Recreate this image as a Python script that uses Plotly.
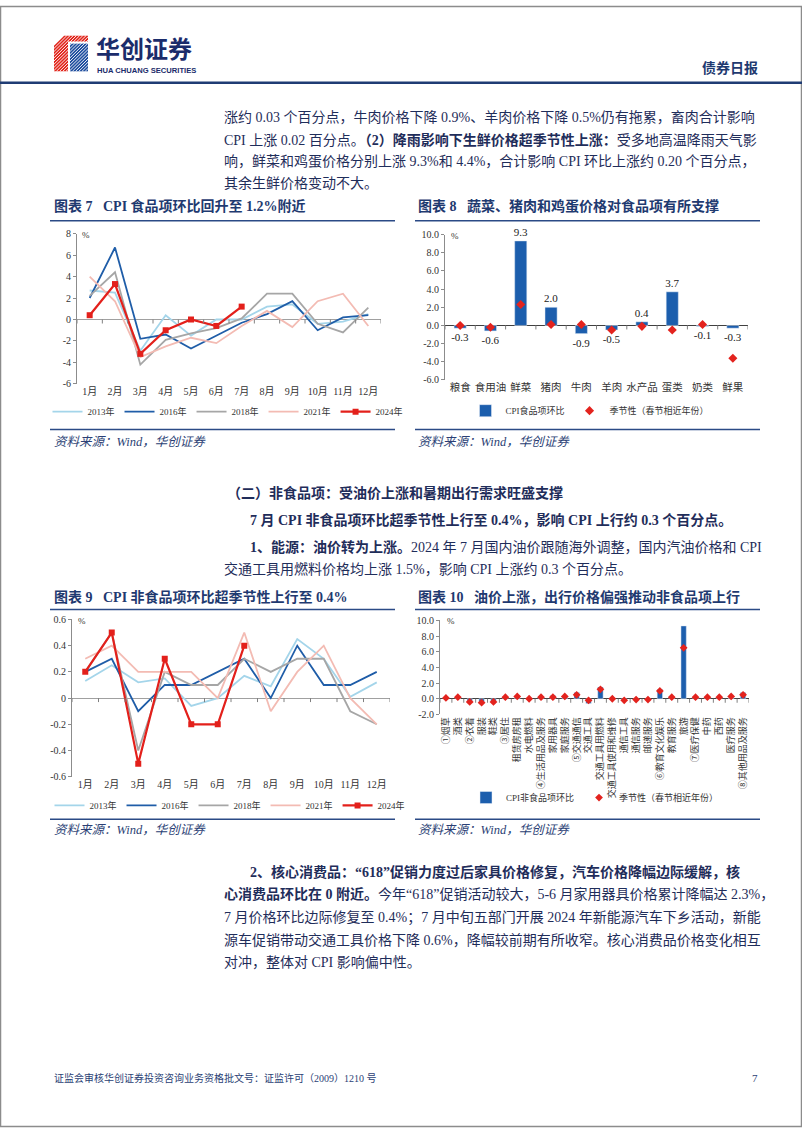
import plotly.graph_objects as go

W, H = 802, 1133

# ---------------- data ----------------
months = ["1月", "2月", "3月", "4月", "5月", "6月", "7月", "8月", "9月", "10月", "11月", "12月"]
year_names = ["2013年", "2016年", "2018年", "2021年", "2024年"]

# Chart 7: CPI food m/m (%)
food_2013 = [2.7, 2.5, -2.9, 0.4, -1.5, 0.0, 0.0, 1.2, 1.4, -0.4, -0.2, 0.5]
food_2016 = [2.0, 6.7, -1.8, -1.4, -2.7, -1.5, -0.3, 0.5, 1.7, -1.0, 0.2, 0.4]
food_2018 = [2.2, 4.4, -4.2, -1.9, -1.3, -0.8, 0.1, 2.4, 2.4, -0.4, -1.2, 1.1]
food_2021 = [4.0, 1.7, -3.5, -2.5, -1.7, -2.2, -0.6, 0.8, -0.7, 1.7, 2.4, -0.6]
food_2024 = [0.4, 3.3, -3.2, -1.0, 0.0, -0.6, 1.2]

# Chart 8: food items
food_items = ["粮食", "食用油", "鲜菜", "猪肉", "牛肉", "羊肉", "水产品", "蛋类", "奶类", "鲜果"]
food_mom = [-0.3, -0.6, 9.3, 2.0, -0.9, -0.5, 0.4, 3.7, -0.1, -0.3]
food_season = [0.0, -0.2, 2.3, 0.1, 0.1, -0.5, -0.1, -0.5, 0.1, -3.6]

# Chart 9: CPI non-food m/m (%)
nf_2013 = [0.13, 0.25, 0.12, 0.15, -0.06, 0.0, 0.17, 0.09, 0.45, 0.3, 0.01, 0.12]
nf_2016 = [0.2, 0.3, -0.1, 0.1, 0.1, 0.2, 0.3, 0.0, 0.4, 0.1, 0.1, 0.2]
nf_2018 = [0.2, 0.5, -0.4, 0.2, 0.1, 0.1, 0.3, 0.2, 0.3, 0.3, -0.1, -0.2]
nf_2021 = [0.3, 0.4, 0.2, 0.2, 0.2, 0.0, 0.5, -0.1, 0.2, 0.4, 0.0, -0.2]
nf_2024 = [0.2, 0.5, -0.5, 0.3, -0.2, -0.2, 0.4]

# Chart 10: non-food items
nonfood_items = ["①烟草", "酒类", "②衣着", "服装", "鞋类", "③居住", "租赁房房租", "水电燃料",
                 "④生活用品及服务", "家用器具", "家庭服务", "⑤交通通信", "交通工具", "交通工具用燃料",
                 "交通工具使用和维修", "通信工具", "通信服务", "邮递服务", "⑥教育文化娱乐", "教育服务",
                 "旅游", "⑦医疗保健", "中药", "西药", "医疗服务", "⑧其他用品及服务"]
nonfood_mom = [0.1, 0.1, -0.3, -0.4, -0.3, 0.1, 0.2, 0.0, 0.3, 0.4, 0.2, 0.8, -0.6, 1.5,
               0.0, -0.1, 0.0, 0.0, 1.2, 0.1, 9.3, 0.1, 0.1, 0.1, 0.1, 0.8]
nonfood_season = [0.1, 0.2, -0.4, -0.5, -0.4, 0.2, 0.3, 0.0, 0.2, 0.2, 0.3, 0.5, -0.2, 1.2,
                  0.0, -0.2, -0.1, -0.1, 1.0, 0.2, 6.5, 0.2, 0.2, 0.2, 0.3, 0.5]

bar_name_food = "CPI食品项环比"
bar_name_nonfood = "CPI非食品项环比"
season_name = "季节性（春节相近年份）"

y7_vals = [-6, -4, -2, 0, 2, 4, 6, 8]
y7_text = ["-6", "-4", "-2", "0", "2", "4", "6", "8"]
y8_vals = [-6, -4, -2, 0, 2, 4, 6, 8, 10]
y8_text = ["-6.0", "-4.0", "-2.0", "0.0", "2.0", "4.0", "6.0", "8.0", "10.0"]
y9_vals = [-0.6, -0.4, -0.2, 0, 0.2, 0.4, 0.6]
y9_text = ["-0.6", "-0.4", "-0.2", "0", "0.2", "0.4", "0.6"]
y10_vals = [-2, 0, 2, 4, 6, 8, 10]
y10_text = ["-2.0", "0.0", "2.0", "4.0", "6.0", "8.0", "10.0"]

# ---------------- style ----------------
def X(p):
    return p / W


def Y(p):
    return 1 - p / H


SERIF = "Liberation Serif, Noto Sans CJK SC, serif"
SANS_CJK = "Noto Sans CJK SC, sans-serif"
NAVY = "#1F3A70"
TXT = "#1F2D5A"
AX = "#333333"
BLUE = "#1C5EAD"
RED = "#E3231E"
year_colors = ["#A4D5EA", "#1F5DA8", "#A6A6A6", "#F3BBB3", "#E3201B"]

fig = go.Figure()

# ---------------- chart 7 ----------------
for name, vals, col in zip(year_names, [food_2013, food_2016, food_2018, food_2021, food_2024], year_colors):
    cur = name == "2024年"
    fig.add_trace(go.Scatter(
        x=months[:len(vals)], y=vals, name=name,
        mode="lines+markers" if cur else "lines",
        line=dict(color=col, width=2.2 if cur else 1.8),
        marker=dict(symbol="square", size=6, color=col),
        xaxis="x", yaxis="y", legend="legend"))

# ---------------- chart 8 ----------------
fig.add_trace(go.Bar(
    x=food_items, y=food_mom, name=bar_name_food, marker_color=BLUE, width=0.4,
    text=[f"{v:.1f}" for v in food_mom], textposition="outside", cliponaxis=False,
    constraintext="none",
    textfont=dict(size=11, family=SERIF, color="#222"),
    xaxis="x2", yaxis="y2", legend="legend2"))
fig.add_trace(go.Scatter(
    x=food_items, y=food_season, name=season_name, mode="markers",
    marker=dict(symbol="diamond", size=7, color=RED),
    xaxis="x2", yaxis="y2", legend="legend2"))

# ---------------- chart 9 ----------------
for name, vals, col in zip(year_names, [nf_2013, nf_2016, nf_2018, nf_2021, nf_2024], year_colors):
    cur = name == "2024年"
    fig.add_trace(go.Scatter(
        x=months[:len(vals)], y=vals, name=name,
        mode="lines+markers" if cur else "lines",
        line=dict(color=col, width=2.2 if cur else 1.8),
        marker=dict(symbol="square", size=6, color=col),
        xaxis="x3", yaxis="y3", legend="legend3"))

# ---------------- chart 10 ----------------
fig.add_trace(go.Bar(
    x=nonfood_items, y=nonfood_mom, name=bar_name_nonfood, marker_color=BLUE, width=0.45,
    xaxis="x4", yaxis="y4", legend="legend4"))
fig.add_trace(go.Scatter(
    x=nonfood_items, y=nonfood_season, name=season_name, mode="markers",
    marker=dict(symbol="diamond", size=6, color=RED),
    xaxis="x4", yaxis="y4", legend="legend4"))


def xax(x0, x1, anchor, cats, size=10, angle=0):
    return dict(domain=[X(x0), X(x1)], anchor=anchor, type="category",
                categoryorder="array", categoryarray=cats,
                tickmode="array", tickvals=cats, ticktext=cats,
                range=[-0.5, len(cats) - 0.5], showgrid=False, showline=False,
                zeroline=False, ticks="", tickangle=angle,
                tickfont=dict(size=size, family=SERIF, color=AX), fixedrange=True)


def yax(top, bottom, anchor, rng, vals, text, zc):
    return dict(domain=[Y(bottom), Y(top)], anchor=anchor, range=rng,
                tickmode="array", tickvals=vals, ticktext=text,
                showgrid=False, zeroline=True, zerolinecolor=zc, zerolinewidth=1,
                showline=True, linecolor="#8C8C8C", linewidth=1,
                ticks="outside", ticklen=3, tickcolor="#8C8C8C",
                tickfont=dict(size=10, family=SERIF, color=AX), fixedrange=True)


layout = dict(
    width=W, height=H, margin=dict(l=0, r=0, t=0, b=0),
    paper_bgcolor="white", plot_bgcolor="white", bargap=0.6,
    xaxis=xax(77, 381, "y", months),
    yaxis=yax(230, 382, "x", [-6, 8], y7_vals, y7_text, "#A0A0A0"),
    xaxis2=xax(445, 748, "y2", food_items, size=10.5),
    yaxis2=yax(231, 378, "x2", [-6, 10], y8_vals, y8_text, "#404040"),
    xaxis3=xax(72, 390, "y3", months),
    yaxis3=yax(620, 779, "x3", [-0.6, 0.6], y9_vals, y9_text, "#A0A0A0"),
    xaxis4=xax(440, 749, "y4", nonfood_items, size=9, angle=-90),
    yaxis4=yax(621, 716, "x4", [-2, 10], y10_vals, y10_text, "#404040"),
)

leg_common = dict(orientation="h", xanchor="center", yanchor="middle",
                  bgcolor="rgba(0,0,0,0)", itemwidth=30, itemclick=False,
                  font=dict(size=9, family=SERIF, color=AX))
layout["legend"] = dict(leg_common, x=X(228), y=Y(410))
layout["legend2"] = dict(leg_common, x=X(590), y=Y(409))
layout["legend3"] = dict(leg_common, x=X(230), y=Y(808))
layout["legend4"] = dict(leg_common, x=X(595), y=Y(800))
fig.update_layout(**layout)

shapes = []
# category boundary ticks on the zero line
for xr, yr, n in [("x", "y", len(months)), ("x2", "y2", len(food_items)),
                  ("x3", "y3", len(months)), ("x4", "y4", len(nonfood_items))]:
    for i in range(n + 1):
        shapes.append(dict(type="line", xref=xr, yref=yr, x0=i - 0.5, x1=i - 0.5,
                           ysizemode="pixel", yanchor=0, y0=0, y1=-4,
                           line=dict(color="#808080", width=1)))

# page frame
shapes.append(dict(type="rect", xref="paper", yref="paper", x0=X(0.5), x1=X(801.5),
                   y0=Y(1132.5), y1=Y(0.5), line=dict(color="#8C8C8C", width=1.5)))
# header rule
shapes.append(dict(type="line", xref="paper", yref="paper", x0=0, x1=1, y0=Y(77.5), y1=Y(77.5),
                   line=dict(color="#1F3C74", width=2.5)))
# chart frame rules
for x0, x1 in [(50, 395), (415, 760)]:
    for yy in [217, 428, 610, 822]:
        shapes.append(dict(type="line", xref="paper", yref="paper", x0=X(x0), x1=X(x1),
                           y0=Y(yy), y1=Y(yy), line=dict(color="#2B4A86", width=1.6)))

# logo icon
def path(pts):
    s = "M" + " L".join(f"{X(a)},{Y(b)}" for a, b in pts) + " Z"
    return s


shapes.append(dict(type="path", xref="paper", yref="paper",
                   path=path([(54, 40), (64, 30), (88, 30), (88, 36), (68, 36), (68, 66), (54, 66)]),
                   fillcolor="#E1261C", line=dict(width=0)))
shapes.append(dict(type="rect", xref="paper", yref="paper", x0=X(70), x1=X(88), y0=Y(66), y1=Y(38),
                   fillcolor="#1F4E9E", line=dict(width=0)))
c = 84
while c <= 154:
    xa = max(54, c - 66)
    xb = min(88, c - 30)
    if xb > xa:
        shapes.append(dict(type="line", xref="paper", yref="paper", x0=X(xa), y0=Y(c - xa),
                           x1=X(xb), y1=Y(c - xb), line=dict(color="white", width=0.9)))
    c += 3.2
fig.update_layout(shapes=shapes)

ann = []


def text(x, y, s, size=14, color=TXT, anchor="left", family=SERIF):
    ann.append(dict(x=X(x), y=Y(y), xref="paper", yref="paper", text=s, showarrow=False,
                    xanchor=anchor, yanchor="middle", align="left",
                    font=dict(size=size, color=color, family=family)))


# header
text(94, 42, "<b>华创证券</b>", size=24, color="#1B2C6B", family=SANS_CJK)
text(95, 65.5, "<b>HUA CHUANG SECURITIES</b>", size=7.6, color="#1B2C6B",
     family="Liberation Sans Narrow, Liberation Sans, Arial, sans-serif")
text(760, 63, "<b>债券日报</b>", size=14, color=NAVY, anchor="right")

# paragraph 1
text(222, 113, "涨约 0.03 个百分点，牛肉价格下降 0.9%、羊肉价格下降 0.5%仍有拖累，畜肉合计影响")
text(222, 135, "CPI 上涨 0.02 百分点。<b>（2）降雨影响下生鲜价格超季节性上涨：</b>受多地高温降雨天气影")
text(222, 157, "响，鲜菜和鸡蛋价格分别上涨 9.3%和 4.4%，合计影响 CPI 环比上涨约 0.20 个百分点，")
text(222, 179, "其余生鲜价格变动不大。")

# chart titles
text(52, 202, "<b>图表 7   CPI 食品项环比回升至 1.2%附近</b>", size=14, color=NAVY)
text(416, 202, "<b>图表 8   蔬菜、猪肉和鸡蛋价格对食品项有所支撑</b>", size=14, color=NAVY)
text(52, 597, "<b>图表 9   CPI 非食品项环比超季节性上行至 0.4%</b>", size=14, color=NAVY)
text(416, 597, "<b>图表 10   油价上涨，出行价格偏强推动非食品项上行</b>", size=14, color=NAVY)

# % unit labels
text(80, 231, "%", size=9, color=AX)
text(449, 232, "%", size=9, color=AX)
text(76, 622, "%", size=9, color=AX)
text(445, 622, "%", size=9, color=AX)

# sources
for sx, sy in [(52, 441), (416, 441), (52, 833), (416, 833)]:
    text(sx, sy, "<i>资料来源：Wind，华创证券</i>", size=12.5, color="#2B3F75")

# section (二)
text(225, 492, "<b>（二）非食品项：受油价上涨和暑期出行需求旺盛支撑</b>")
text(248, 520, "<b>7 月 CPI 非食品项环比超季节性上行至 0.4%，影响 CPI 上行约 0.3 个百分点。</b>")
text(248, 547, "<b>1、能源：油价转为上涨。</b>2024 年 7 月国内油价跟随海外调整，国内汽油价格和 CPI")
text(222, 569, "交通工具用燃料价格均上涨 1.5%，影响 CPI 上涨约 0.3 个百分点。")

# paragraph 2
text(248, 875, "<b>2、核心消费品：“618”促销力度过后家具价格修复，汽车价格降幅边际缓解，核</b>")
text(222, 898, "<b>心消费品环比在 0 附近。</b>今年“618”促销活动较大，5-6 月家用器具价格累计降幅达 2.3%，")
text(222, 921, "7 月价格环比边际修复至 0.4%；7 月中旬五部门开展 2024 年新能源汽车下乡活动，新能")
text(222, 944, "源车促销带动交通工具价格下降 0.6%，降幅较前期有所收窄。核心消费品价格变化相互")
text(222, 967, "对冲，整体对 CPI 影响偏中性。")

# footer
text(52, 1083, "证监会审核华创证券投资咨询业务资格批文号：证监许可（2009）1210 号", size=10, color="#2B3F75")
text(760, 1083, "7", size=11, color="#2B3F75", anchor="right")

fig.update_layout(annotations=ann)

fig.write_html("out.html", config={"displayModeBar": False})
